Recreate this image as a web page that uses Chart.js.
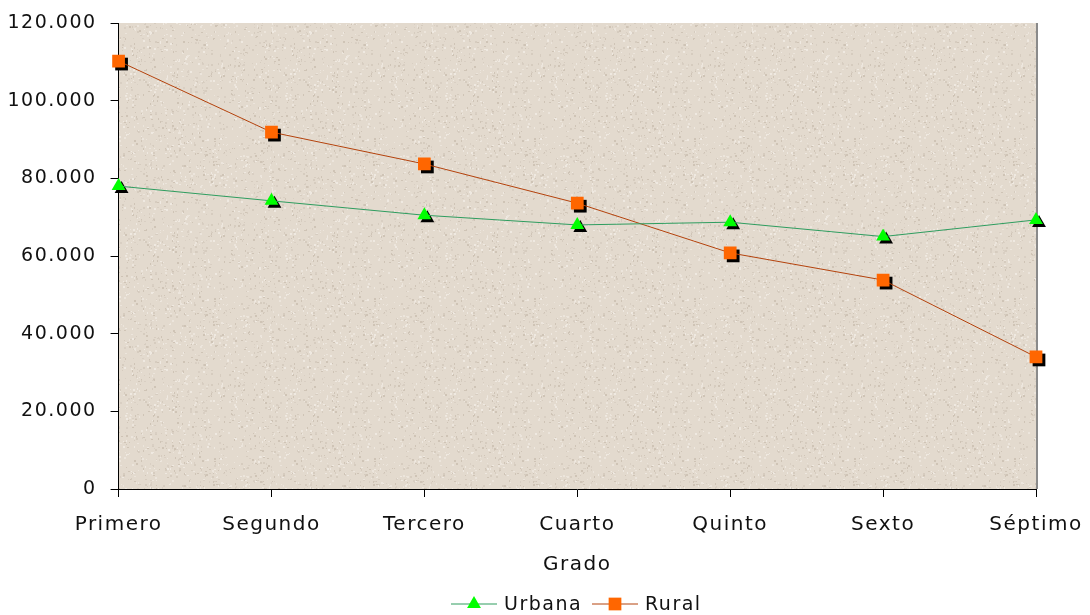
<!DOCTYPE html>
<html>
<head>
<meta charset="utf-8">
<script src="https://cdn.jsdelivr.net/npm/chart.js@4/dist/chart.umd.min.js"></script>
<style>
  html, body { margin:0; padding:0; background:#fff; }
  #wrap { width:1090px; height:615px; }
</style>
</head>
<body>
<div id="wrap"><canvas id="chart" width="1090" height="615"></canvas></div>
<script>
const grados = ["Primero", "Segundo", "Tercero", "Cuarto", "Quinto", "Sexto", "Séptimo"];
const urbana = [78000, 74200, 70500, 68000, 68700, 65000, 69300];
const rural  = [110200, 91900, 83700, 73600, 60800, 53800, 34000];
const yTicks = [0, 20000, 40000, 60000, 80000, 100000, 120000];

const FONT = "'DejaVu Sans', Verdana, sans-serif";

function fmtMiles(v){ return v === 0 ? "0" : String(v).replace(/\B(?=(\d{3})+(?!\d))/g, "."); }

// beige speckled texture of the plot area
function makeTexture(ctx){
  const c = document.createElement("canvas"); c.width = 160; c.height = 160;
  const g = c.getContext("2d");
  g.fillStyle = "#e3dace"; g.fillRect(0,0,160,160);
  let s = 12345;
  const rnd = () => (s = (s * 1103515245 + 12345) & 0x7fffffff) / 0x7fffffff;
  const tones = ["#d6ccbf","#ece5dc","#d9cfc3","#efe9e1","#cfc4b6"];
  for (let i = 0; i < 1400; i++){
    g.fillStyle = tones[Math.floor(rnd()*tones.length)];
    g.fillRect(Math.floor(rnd()*160), Math.floor(rnd()*160), 1 + Math.floor(rnd()*2), 1 + Math.floor(rnd()*2));
  }
  return ctx.createPattern(c, "repeat");
}

const plotDecor = {
  id: "plotDecor",
  beforeDraw(chart){
    const { ctx, chartArea: a } = chart;
    ctx.save();
    ctx.fillStyle = makeTexture(ctx);
    ctx.fillRect(a.left, a.top, a.right - a.left, a.bottom - a.top);
    ctx.strokeStyle = "#8a8a8a"; ctx.lineWidth = 2;
    ctx.beginPath(); ctx.moveTo(a.right + 1, a.top); ctx.lineTo(a.right + 1, a.bottom); ctx.stroke();
    ctx.restore();
    ctx.letterSpacing = "1.5px";
  },
  beforeDatasetDraw(chart, args){
    const { ctx } = chart;
    const meta = args.meta, ds = chart.data.datasets[args.index];
    ctx.save();
    ctx.fillStyle = "#000";
    meta.data.forEach(p => {
      Chart.helpers.drawPoint(ctx, { pointStyle: ds.pointStyle, radius: ds.pointRadius, rotation: 0, borderWidth: 0 }, p.x + 3, p.y + 3);
    });
    ctx.restore();
  },
  afterDraw(chart){
    // legend: line segment with marker, then label
    const { ctx } = chart;
    const items = [
      { x: 451, ds: chart.data.datasets[0] },
      { x: 592, ds: chart.data.datasets[1] }
    ];
    const y = 604;
    ctx.save();
    ctx.letterSpacing = "1.5px";
    ctx.font = "19px " + FONT;
    ctx.textBaseline = "middle";
    items.forEach(it => {
      ctx.strokeStyle = it.ds.borderColor; ctx.lineWidth = 1;
      ctx.beginPath(); ctx.moveTo(it.x, y); ctx.lineTo(it.x + 46, y); ctx.stroke();
      ctx.fillStyle = it.ds.pointBackgroundColor;
      Chart.helpers.drawPoint(ctx, { pointStyle: it.ds.pointStyle, radius: it.ds.pointRadius, rotation: 0, borderWidth: 0 }, it.x + 23, y);
      ctx.fillStyle = "#111";
      ctx.fillText(it.ds.label, it.x + 53, y + 1);
    });
    ctx.restore();
  }
};

new Chart(document.getElementById("chart"), {
  type: "line",
  data: {
    labels: grados,
    datasets: [
      { label: "Urbana", data: urbana, borderColor: "#2e9d5f", borderWidth: 1,
        pointStyle: "triangle", pointRadius: 8, pointBackgroundColor: "#00ff00", pointBorderWidth: 0, tension: 0 },
      { label: "Rural", data: rural, borderColor: "#b4420c", borderWidth: 1,
        pointStyle: "rect", pointRadius: 9, pointBackgroundColor: "#ff6600", pointBorderWidth: 0, tension: 0 }
    ]
  },
  options: {
    responsive: false,
    animation: false,
    layout: { padding: { top: 23, right: 54, bottom: 38, left: 4 } },
    plugins: { legend: { display: false }, tooltip: { enabled: false } },
    scales: {
      x: {
        offset: false,
        afterFit: s => { s.paddingRight = 0; },
        grid: { display: true, drawOnChartArea: false, color: "#000", tickLength: 8, tickColor: "#000" },
        border: { display: true, color: "#000", width: 1 },
        ticks: { color: "#111", font: { family: FONT, size: 20 }, padding: 16, maxRotation: 0, autoSkip: false },
        title: { display: true, text: "Grado", color: "#111", font: { family: FONT, size: 20 }, padding: { top: 0, bottom: 0 } }
      },
      y: {
        min: 0, max: 120000,
        afterBuildTicks: axis => { axis.ticks = yTicks.map(v => ({ value: v })); },
        afterFit: s => { s.paddingTop = 0; },
        grid: { display: true, drawOnChartArea: false, color: "#000", tickLength: 8, tickColor: "#000" },
        border: { display: true, color: "#000", width: 1 },
        ticks: { color: "#111", font: { family: FONT, size: 19 }, padding: 14, callback: v => fmtMiles(v) }
      }
    }
  },
  plugins: [plotDecor]
});
</script>
</body>
</html>
